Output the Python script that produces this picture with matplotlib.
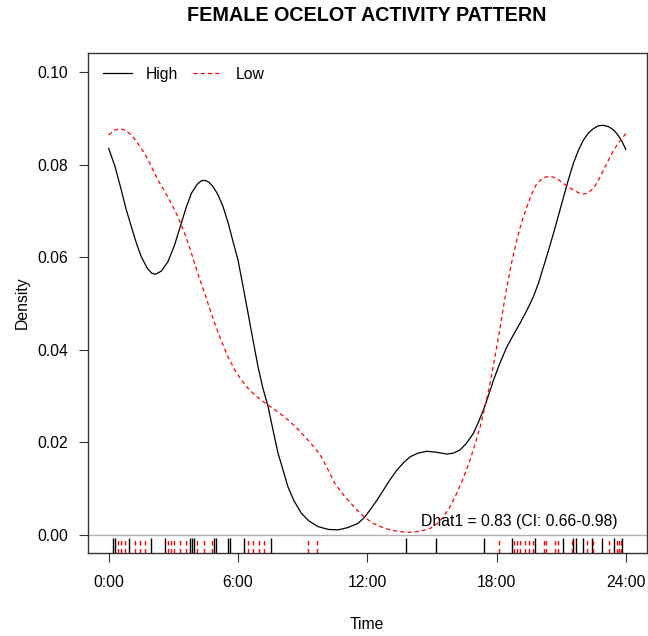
import matplotlib.pyplot as plt

plt.rcParams['font.family'] = ['Liberation Sans', 'DejaVu Sans']

# kernel density curves, hour of day vs density
high_hours = [0.00, 0.30, 0.585, 0.80, 1.05, 1.30, 1.51, 1.80, 2.00, 2.18, 2.45, 2.75,
              3.05, 3.37, 3.60, 3.84, 4.10, 4.30, 4.46, 4.65, 4.85, 5.07, 5.30, 5.54,
              5.75, 6.00, 6.23, 6.47, 6.70, 6.93, 7.15, 7.40, 7.63, 7.86, 8.10, 8.32,
              8.60, 8.94, 9.30, 9.72, 10.20, 10.65, 11.10, 11.57, 11.85, 12.13, 12.45,
              12.75, 13.05, 13.37, 13.70, 13.99, 14.35, 14.76, 15.20, 15.69, 16.00,
              16.31, 16.60, 16.93, 17.15, 17.39, 17.62, 17.86, 18.15, 18.48, 18.80,
              19.09, 19.40, 19.71, 19.95, 20.18, 20.41, 20.64, 20.88, 21.11, 21.34,
              21.57, 21.80, 22.03, 22.26, 22.50, 22.73, 22.96, 23.20, 23.43, 23.62,
              23.81, 24.00]
high_dens = [0.0835, 0.0795, 0.0745, 0.0705, 0.0666, 0.0628, 0.0601, 0.0575, 0.0565,
             0.0563, 0.0570, 0.0590, 0.0625, 0.0673, 0.0708, 0.0738, 0.0757, 0.0765,
             0.0766, 0.0762, 0.0752, 0.0735, 0.0710, 0.0675, 0.0637, 0.0594, 0.0538,
             0.0478, 0.0420, 0.0363, 0.0318, 0.0276, 0.0225, 0.0176, 0.0138, 0.0103,
             0.0073, 0.0046, 0.0029, 0.0017, 0.0011, 0.0010, 0.0015, 0.0024, 0.0036,
             0.0053, 0.0074, 0.0096, 0.0118, 0.0139, 0.0156, 0.0168, 0.0176, 0.0180,
             0.0178, 0.0174, 0.0176, 0.0183, 0.0197, 0.0219, 0.0242, 0.0269, 0.0300,
             0.0334, 0.0370, 0.0406, 0.0433, 0.0457, 0.0484, 0.0514, 0.0544, 0.0579,
             0.0614, 0.0651, 0.0691, 0.0730, 0.0768, 0.0803, 0.0831, 0.0853, 0.0868,
             0.0878, 0.0884, 0.0885, 0.0882, 0.0875, 0.0865, 0.0851, 0.0833]

low_hours = [0.00, 0.25, 0.51, 0.78, 1.05, 1.35, 1.67, 1.98, 2.29, 2.60, 2.91, 3.22,
             3.53, 3.76, 3.99, 4.22, 4.46, 4.69, 4.92, 5.23, 5.54, 5.85, 6.16, 6.47,
             6.78, 7.09, 7.40, 7.86, 8.32, 8.78, 9.25, 9.56, 9.87, 10.18, 10.49, 10.80,
             11.10, 11.38, 11.67, 11.97, 12.28, 12.67, 13.06, 13.52, 13.99, 14.45,
             14.92, 15.23, 15.53, 15.84, 16.15, 16.46, 16.77, 17.00, 17.24, 17.47,
             17.70, 17.93, 18.17, 18.33, 18.48, 18.71, 18.94, 19.17, 19.41, 19.64,
             19.87, 20.18, 20.49, 20.80, 21.11, 21.34, 21.57, 21.80, 22.03, 22.26,
             22.50, 22.73, 22.96, 23.20, 23.43, 23.71, 24.00]
low_dens = [0.0864, 0.0874, 0.0878, 0.0874, 0.0864, 0.0846, 0.0824, 0.0796, 0.0766,
            0.0742, 0.0716, 0.0686, 0.0651, 0.0620, 0.0586, 0.0553, 0.0521, 0.0488,
            0.0457, 0.0418, 0.0384, 0.0356, 0.0334, 0.0316, 0.0302, 0.0290, 0.0280,
            0.0265, 0.0248, 0.0228, 0.0204, 0.0188, 0.0168, 0.0140, 0.0111, 0.0091,
            0.0075, 0.0060, 0.0046, 0.0034, 0.0024, 0.0016, 0.0010, 0.0006, 0.0005,
            0.0007, 0.0013, 0.0023, 0.0038, 0.0060, 0.0089, 0.0122, 0.0161, 0.0195,
            0.0233, 0.0278, 0.0327, 0.0385, 0.0449, 0.0495, 0.0536, 0.0590, 0.0637,
            0.0676, 0.0709, 0.0737, 0.0759, 0.0772, 0.0775, 0.0770, 0.0759, 0.0751,
            0.0745, 0.0739, 0.0736, 0.0739, 0.0749, 0.0766, 0.0788, 0.0810, 0.0831,
            0.0850, 0.0867]

# detection times (rug)
high_times = [0.21, 0.28, 0.96, 1.96, 2.60, 3.77, 3.85, 3.97, 4.90, 4.98, 5.56, 5.62,
              6.30, 7.51, 13.80, 15.19, 17.44, 18.70, 19.79, 21.07, 21.55, 21.68,
              22.03, 22.42, 22.89, 23.45, 23.82]
low_times = [0.42, 0.55, 0.75, 1.23, 1.45, 1.69, 2.77, 2.87, 3.03, 3.31, 3.59, 4.09,
             4.42, 4.80, 6.47, 6.72, 6.97, 7.22, 9.24, 9.66, 18.10, 18.80, 18.95,
             19.10, 19.33, 19.50, 19.70, 20.22, 20.28, 20.70, 20.85, 21.48, 22.22,
             22.50, 23.20, 23.60, 23.70, 23.78]

tick_hours = [0, 6, 12, 18, 24]
tick_labels = ["0:00", "6:00", "12:00", "18:00", "24:00"]
dens_ticks = [0.00, 0.02, 0.04, 0.06, 0.08, 0.10]

dash = (0, (3.2, 2.6))
fs = 11.3

fig = plt.figure(figsize=(6.48, 6.36), dpi=100)
ax = fig.add_axes([88 / 648, 1 - 553 / 636, (646.5 - 88) / 648, (553 - 52.7) / 636])

ax.axhline(0, color='#b0b0b0', lw=1, zorder=1)
ax.plot(high_hours, high_dens, color='black', lw=0.9, label='High', zorder=3)
ax.plot(low_hours, low_dens, color='red', lw=0.9, linestyle=dash, label='Low', zorder=3)

ax.vlines(high_times, -0.0041, -0.0007, colors='black', lw=1)
ax.vlines(low_times, -0.0041, -0.0007, colors='red', lw=1, linestyles=[dash])

ax.set_xlim(-0.96, 24.96)
ax.set_ylim(-0.0040, 0.1042)
ax.set_xticks(tick_hours, tick_labels)
ax.set_yticks(dens_ticks, [f"{v:.2f}" for v in dens_ticks])
ax.tick_params(axis='both', length=6.8, width=0.8, labelsize=fs, color='#333333')
ax.tick_params(axis='x', pad=9)
ax.tick_params(axis='y', pad=7.5)
for s in ax.spines.values():
    s.set_color('#333333')
    s.set_linewidth(1)

ax.text(14.49, 0.0028, "Dhat1 = 0.83 (CI: 0.66-0.98)", fontsize=fs,
        ha='left', va='center', zorder=4)

leg = ax.legend(loc='center left', bbox_to_anchor=(0.0269, 0.9566), ncol=2,
                frameon=False, fontsize=fs, borderpad=0, borderaxespad=0,
                handlelength=1.85, handletextpad=0.9, columnspacing=0.9)

fig.text(367.2 / 648, 1 - 21.1 / 636, "FEMALE OCELOT ACTIVITY PATTERN",
         fontsize=14.2, fontweight='bold', ha='center', va='baseline')
fig.text(367.2 / 648, 1 - 629 / 636, "Time", fontsize=fs, ha='center', va='baseline')
fig.text(22 / 648, 1 - 303 / 636, "Density", fontsize=fs, rotation=90,
         ha='center', va='center')

fig.savefig("out.png", dpi=100)
